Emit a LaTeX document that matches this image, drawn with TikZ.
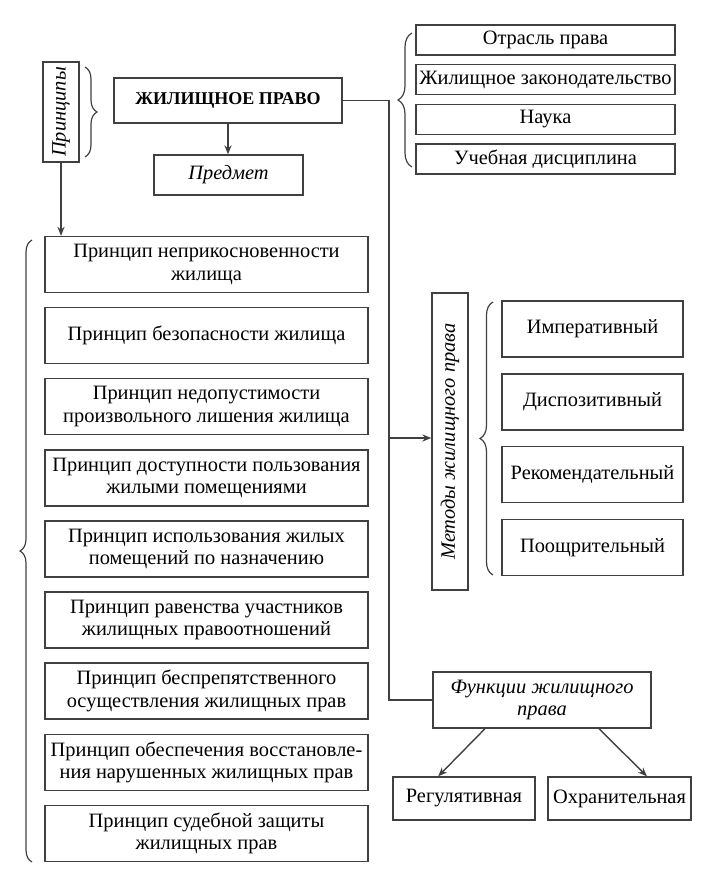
\documentclass[tikz,border=0pt]{standalone}
\usepackage{fontspec}
\setmainfont{Liberation Serif}
\usepackage{tikz}
\usetikzlibrary{arrows,arrows.meta,positioning,decorations.pathreplacing,calc}

\begin{document}
\begin{tikzpicture}[
			x = 0.5pt, y = -0.5pt,
			>={Stealth[length=4.5pt,width=3.6pt]},
			every node/.style = {font=\fontsize{10.2}{11.3}\selectfont},
			box/.style = {draw=black!75, line width=0.7pt, align=center, inner sep=0.5pt},
			vbox/.style = {box, rotate=90, font=\itshape\fontsize{10.2}{11.3}\selectfont},
			line/.style = {draw=black!75, line width=0.7pt},
			brc/.style = {draw=black!75, line width=0.6pt, decorate, decoration={brace, amplitude=#1}}
			]

			\useasboundingbox (0,0) rectangle (704,878);

			% центр
			\node[box, minimum width=114pt, minimum height=22.5pt, font=\bfseries\fontsize{9}{11}\selectfont] (pravo) at (228,100.5) {ЖИЛИЩНОЕ ПРАВО};
			\node[box, minimum width=74.5pt, minimum height=20pt, font=\itshape\fontsize{10.2}{11.3}\selectfont] (predmet) at (228.5,175) {Предмет};
			\draw[line,->] (pravo.south) -- (pravo.south |- predmet.north);

			% принципы
			\node[vbox, minimum width=50pt, minimum height=18pt] (princ) at (61,112) {Принципы};
			\draw[brc=6pt] (85,67) -- (85,157);

			\foreach \t [count=\i] in {
					{Принцип неприкосновенности\\жилища},
					{Принцип безопасности жилища},
					{Принцип недопустимости\\произвольного лишения жилища},
					{Принцип доступности пользования\\жилыми помещениями},
					{Принцип использования жилых\\помещений по назначению},
					{Принцип равенства участников\\жилищных правоотношений},
					{Принцип беспрепятственного\\осуществления жилищных прав},
					{Принцип обеспечения восстановле-\\ния нарушенных жилищных прав},
					{Принцип судебной защиты\\жилищных прав}}
				\node[box, minimum width=161.5pt, minimum height=28pt] (p\i) at (206.5,{264.5+71.1*(\i-1)}) {\t};
			\draw[line,->] (princ.west) -- (princ.west |- p1.north);
			\draw[brc=6pt] (32,862) -- (32,240);

			% отрасль, законодательство, ...
			\foreach \t [count=\i] in {Отрасль права, Жилищное законодательство, Наука, Учебная дисциплина}
				\node[box, minimum width=129.5pt, minimum height=15pt] (vid\i) at (545.5,{40+39.7*(\i-1)}) {\t};
			\draw[brc=7pt] (412,167) -- (412,33);

			% методы
			\node[vbox, minimum width=148.5pt, minimum height=18pt] (metody) at (450,441.5) {Методы жилищного права};
			\foreach \t [count=\i] in {Императивный, Диспозитивный, Рекомендательный, Поощрительный}
				\node[box, minimum width=90.5pt, minimum height=28pt] (m\i) at (592.5,{329+72.8*(\i-1)}) {\t};
			\draw[brc=6.5pt] (493,575) -- (493,302);

			% функции
			\node[box, minimum width=109pt, minimum height=28pt, font=\itshape\fontsize{10.2}{11.3}\selectfont] (funkcii) at (542,700) {Функции жилищного\\права};
			\node[box, minimum width=71pt, minimum height=21.5pt] (reg) at (464,798.5) {Регулятивная};
			\node[box, minimum width=71.5pt, minimum height=21.5pt] (ohr) at (619.5,798.5) {Охранительная};
			\draw[line,->] ($(funkcii.south west)!0.24!(funkcii.south east)$) -- ($(reg.north west)!0.32!(reg.north east)$);
			\draw[line,->] ($(funkcii.south west)!0.76!(funkcii.south east)$) -- ($(ohr.north west)!0.69!(ohr.north east)$);

			% связи
			\coordinate (stvol) at (389,100.5);
			\draw[line] (pravo.east) -- (stvol) |- (funkcii.west);
			\draw[line,->] (stvol |- 0,438) -- (metody.north |- 0,438);

		\end{tikzpicture}
\end{document}
